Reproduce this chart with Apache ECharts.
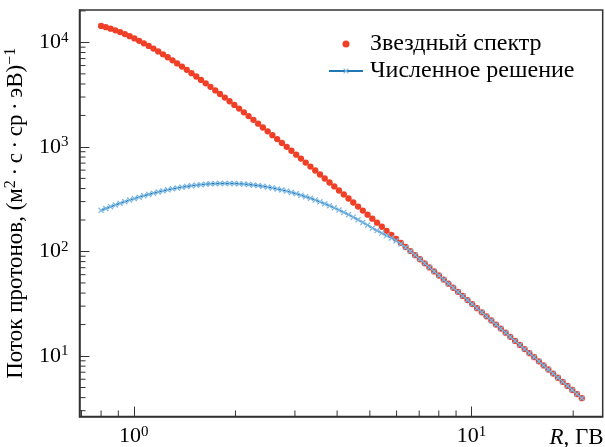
<!DOCTYPE html>
<html lang="ru">
<head>
<meta charset="UTF-8">
<title>Поток протонов</title>
<script src="https://cdn.jsdelivr.net/npm/echarts@6/dist/echarts.min.js"></script>
<style>html,body{margin:0;padding:0;background:#fff;}</style>
</head>
<body>
<div id="main" style="width:605px;height:447px;"></div>
<script>
  // жесткость R, ГВ
  var rigidity = [
    0.8, 0.8264, 0.8536, 0.8818, 0.9109, 0.9409, 0.9719, 1.004, 1.037, 1.071,
    1.107, 1.143, 1.181, 1.220, 1.260, 1.302, 1.344, 1.389, 1.435, 1.482,
    1.531, 1.581, 1.633, 1.687, 1.743, 1.800, 1.860, 1.921, 1.985, 2.050,
    2.118, 2.187, 2.260, 2.334, 2.411, 2.491, 2.573, 2.658, 2.745, 2.836,
    2.929, 3.026, 3.126, 3.229, 3.335, 3.445, 3.559, 3.676, 3.798, 3.923,
    4.052, 4.186, 4.324, 4.466, 4.614, 4.766, 4.923, 5.085, 5.253, 5.426,
    5.605, 5.790, 5.981, 6.178, 6.382, 6.593, 6.810, 7.035, 7.267, 7.506,
    7.754, 8.010, 8.274, 8.547, 8.829, 9.120, 9.421, 9.731, 10.05, 10.38,
    10.73, 11.08, 11.45, 11.82, 12.21, 12.62, 13.03, 13.46, 13.91, 14.36,
    14.84, 15.33, 15.83, 16.35, 16.89, 17.45, 18.03, 18.62, 19.24, 19.88,
    20.53, 21.21
  ];
  var starSpectrum = [
    14370, 13970, 13530, 13050, 12540, 12000, 11460, 10900, 10350, 9797,
    9253, 8718, 8197, 7691, 7205, 6740, 6293, 5866, 5461, 5078,
    4717, 4375, 4054, 3754, 3473, 3209, 2964, 2735, 2523, 2326,
    2142, 1972, 1815, 1669, 1534, 1410, 1295, 1189, 1092, 1002,
    919, 843, 773, 709, 649, 595, 545, 499, 457, 419,
    383, 351, 321, 294, 269, 246, 225, 206, 188.5, 172.4,
    157.6, 144.2, 131.9, 120.6, 110.3, 100.8, 92.2, 84.3, 77.0, 70.4,
    64.4, 58.9, 53.8, 49.2, 44.96, 41.1, 37.6, 34.3, 31.4, 28.7,
    26.2, 23.96, 21.9, 20.0, 18.29, 16.72, 15.28, 13.96, 12.76, 11.66,
    10.65, 9.74, 8.90, 8.13, 7.43, 6.79, 6.20, 5.67, 5.18, 4.73,
    4.33, 3.95
  ];
  var numSolution = [
    247.6, 257.7, 268.0, 278.4, 288.9, 299.4, 309.9, 320.4, 330.8, 341.0,
    351.1, 360.9, 370.5, 379.7, 388.6, 397.0, 405.0, 412.5, 419.3, 425.5,
    431.1, 435.9, 439.9, 443.2, 445.6, 447.1, 447.7, 447.4, 446.2, 444.0,
    441.0, 437.1, 432.3, 426.7, 420.3, 413.1, 405.2, 396.7, 387.5, 377.8,
    367.5, 356.8, 345.7, 334.2, 322.5, 310.5, 298.3, 286.1, 273.7, 261.4,
    249.1, 236.9, 224.8, 212.9, 201.2, 189.7, 178.6, 167.3, 158.4, 149.9,
    141.8, 134.2, 126.5, 118.1, 109.2, 100.5, 92.2, 84.3, 77.0, 70.4,
    64.4, 58.9, 53.8, 49.2, 44.96, 41.1, 37.6, 34.3, 31.4, 28.7,
    26.2, 23.96, 21.9, 20.0, 18.29, 16.72, 15.28, 13.96, 12.76, 11.66,
    10.65, 9.74, 8.90, 8.13, 7.43, 6.79, 6.20, 5.67, 5.18, 4.73,
    4.33, 3.95
  ];
  var seriesNames = ['Звездный спектр', 'Численное решение'];
  var xTickPowers = [0, 1];
  var yTickPowers = [1, 2, 3, 4];
  var xRange = [0.6906, 24.46];
  var yRange = [2.64, 20400];

  var serif = "'Liberation Serif', 'Times New Roman', serif";
  var ink = '#333';

  function pairs(xs, ys) {
    return xs.map(function (x, i) { return [x, ys[i]]; });
  }

  function powLabel(list) {
    return function (v) {
      var p = Math.log10(v);
      var n = Math.round(p);
      if (Math.abs(p - n) > 1e-6 || list.indexOf(n) < 0) return '';
      return '{b|10}{s|' + n + '}';
    };
  }

  var labelRich = {
    b: {fontFamily: serif, fontSize: 22, lineHeight: 24, color: '#000'},
    s: {fontFamily: serif, fontSize: 15, lineHeight: 15, verticalAlign: 'top', color: '#000'}
  };

  // малые деления 2..9 в каждой декаде
  function minorValues(lo, hi) {
    var out = [];
    for (var e = Math.floor(Math.log10(lo)); e <= Math.ceil(Math.log10(hi)); e++) {
      for (var m = 2; m <= 9; m++) {
        var v = m * Math.pow(10, e);
        if (v > lo && v < hi) out.push(v);
      }
    }
    return out;
  }

  function minorTicks(dim) {
    var vals = dim === 'x' ? minorValues(xRange[0], xRange[1]) : minorValues(yRange[0], yRange[1]);
    return {
      type: 'custom',
      silent: true,
      clip: false,
      z: 5,
      data: vals.map(function (v) { return dim === 'x' ? [v, yRange[0]] : [xRange[0], v]; }),
      renderItem: function (params, api) {
        var p = api.coord([api.value(0), api.value(1)]);
        var shape = dim === 'x'
          ? {x1: p[0], y1: p[1], x2: p[0], y2: p[1] - 6}
          : {x1: p[0], y1: p[1], x2: p[0] + 6, y2: p[1]};
        return {type: 'line', shape: shape, style: {stroke: ink, lineWidth: 1}};
      }
    };
  }

  var myChart = echarts.init(document.getElementById('main'));

  var option = {
    animation: false,
    backgroundColor: '#fff',
    textStyle: {fontFamily: serif},
    grid: {
      left: 79.5, right: 2.3, top: 10, bottom: 30.5,
      show: true, borderColor: ink, borderWidth: 1.5,
      outerBoundsMode: 'none'
    },
    legend: {
      data: seriesNames,
      orient: 'vertical',
      left: 323, top: 26,
      itemWidth: 34, itemHeight: 7, itemGap: 1,
      textStyle: {fontFamily: serif, fontSize: 24, lineHeight: 26, color: '#000', padding: [0, 0, 0, 2]}
    },
    xAxis: {
      type: 'log', logBase: 10,
      min: xRange[0], max: xRange[1],
      axisLine: {show: true, lineStyle: {color: ink, width: 1.5}},
      axisTick: {inside: true, length: 10, lineStyle: {color: ink, width: 1}},
      minorTick: {show: false},
      splitLine: {show: false},
      axisLabel: {margin: 8, fontFamily: serif, formatter: powLabel(xTickPowers), rich: labelRich, showMinLabel: false, showMaxLabel: false},
      name: '{i|R}{n|, ГВ}',
      nameLocation: 'end',
      nameGap: 1,
      nameTextStyle: {
        align: 'right', verticalAlign: 'top', padding: [9, 0, 0, 0],
        rich: {
          i: {fontFamily: serif, fontStyle: 'italic', fontSize: 23, lineHeight: 24, color: '#000'},
          n: {fontFamily: serif, fontSize: 23, lineHeight: 24, color: '#000'}
        }
      }
    },
    yAxis: {
      type: 'log', logBase: 10,
      min: yRange[0], max: yRange[1],
      axisLine: {show: true, lineStyle: {color: ink, width: 1.5}},
      axisTick: {inside: true, length: 10, lineStyle: {color: ink, width: 1}},
      minorTick: {show: false},
      splitLine: {show: false},
      axisLabel: {margin: 11, fontFamily: serif, formatter: powLabel(yTickPowers), rich: labelRich, showMinLabel: false, showMaxLabel: false},
      name: 'Поток протонов, (м{s|2}\u2009·\u2009с\u2009·\u2009ср\u2009·\u2009эВ){s|−1}',
      nameLocation: 'middle',
      nameGap: 41,
      nameTextStyle: {
        fontFamily: serif, fontSize: 23, lineHeight: 25, color: '#000',
        rich: {s: {fontFamily: serif, fontSize: 16, lineHeight: 16, verticalAlign: 'top', color: '#000'}}
      }
    },
    series: [
      {
        name: seriesNames[0],
        type: 'scatter',
        data: pairs(rigidity, starSpectrum),
        symbol: 'circle',
        symbolSize: 6.3,
        itemStyle: {color: '#ef3f27', opacity: 1},
        z: 2
      },
      {
        name: seriesNames[1],
        type: 'line',
        data: pairs(rigidity, numSolution),
        symbol: 'path://M0,1.5L1.5,0L5,3.5L8.5,0L10,1.5L6.5,5L10,8.5L8.5,10L5,6.5L1.5,10L0,8.5L3.5,5Z',
        symbolSize: 6,
        showSymbol: true,
        showAllSymbol: true,
        lineStyle: {color: '#1f77b4', width: 1.5},
        itemStyle: {color: '#7db8e4'},
        z: 3
      },
      minorTicks('x'),
      minorTicks('y')
    ]
  };

  myChart.setOption(option);
</script>
</body>
</html>
